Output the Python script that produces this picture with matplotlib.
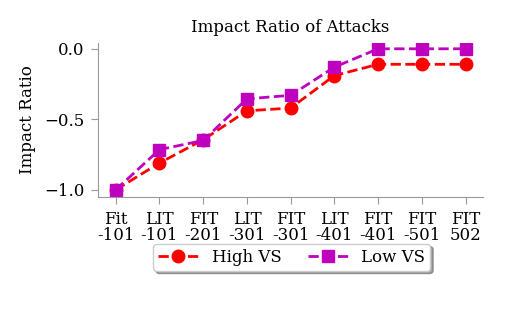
import numpy as np
import matplotlib.pyplot as plt

plt.rcParams['font.family'] = 'DejaVu Serif'

labels = ['Fit\n-101', 'LIT\n-101', 'FIT\n-201', 'LIT\n-301', 'FIT\n-301',
          'LIT\n-401', 'FIT\n-401', 'FIT\n-501', 'FIT\n502']
high_vs = [-1.0, -0.81, -0.645, -0.44, -0.42, -0.19, -0.11, -0.11, -0.11]
low_vs = [-1.0, -0.715, -0.65, -0.355, -0.33, -0.13, 0.0, 0.0, 0.0]

x = np.arange(len(labels))

fig = plt.figure(figsize=(5.09, 3.15), dpi=100)
ax = fig.add_axes([0.193, 0.375, 0.756, 0.488])

ax.plot(x, high_vs, 'o--', color='red', lw=2, ms=9, label='High VS')
ax.plot(x, low_vs, 's--', color='m', lw=2, ms=9, label='Low VS')

ax.set_xticks(x)
ax.set_xticklabels(labels, fontsize=12, linespacing=0.95)
ax.set_yticks([-1.0, -0.5, 0.0])
ax.tick_params(axis='y', labelsize=12)
ax.tick_params(colors='#999999', labelcolor='black', length=5, pad=5)
ax.set_xlim(-0.4, 8.4)
ax.set_ylim(-1.05, 0.04)

for s in ['top', 'right']:
    ax.spines[s].set_visible(False)
for s in ['left', 'bottom']:
    ax.spines[s].set_color('#999999')

ax.set_ylabel('Impact Ratio', fontsize=12, labelpad=6)
ax.set_title('Impact Ratio of Attacks', fontsize=12, pad=8)

ax.legend(loc='upper center', bbox_to_anchor=(0.503, -0.305), ncol=2,
          shadow=True, fontsize=12, frameon=True, handlelength=2.4,
          columnspacing=1.6, borderaxespad=0, borderpad=0.3)

plt.savefig('out.png', dpi=100)
